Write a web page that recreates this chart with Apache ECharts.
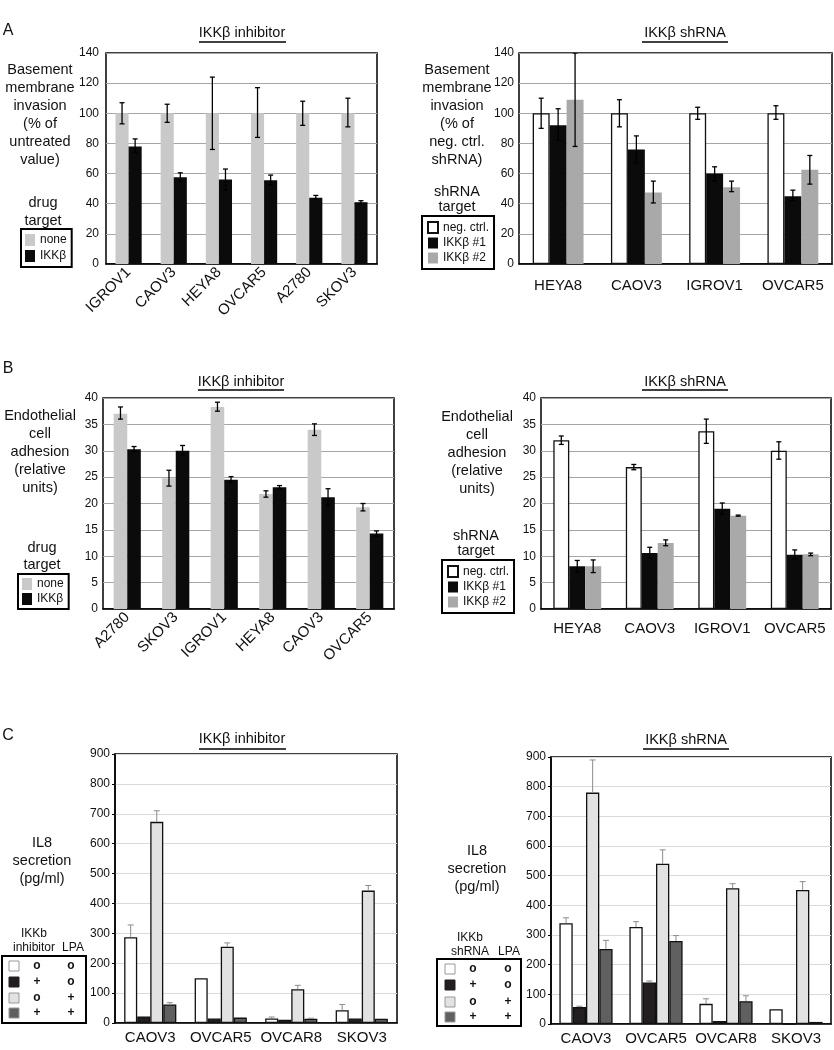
<!DOCTYPE html>
<html><head><meta charset="utf-8">
<script src="https://cdn.jsdelivr.net/npm/echarts@6/dist/echarts.min.js"></script>
<style>html,body{margin:0;padding:0;background:#fff}#c{width:834px;height:1050px}</style>
</head><body><div id="c"></div>
<script>
// ---------- Panel A: basement membrane invasion ----------
const aInhCats = ['IGROV1','CAOV3','HEYA8','OVCAR5','A2780','SKOV3'];
const aInhNone = [100,100,100,100,100,100];
const aInhNoneErr = [[93,107],[94,106],[76,124],[84,117],[92,108],[91,110]];
const aInhIKK = [78,57.5,56,55.5,44,41];
const aInhIKKErr = [[74,83],[55,60.5],[49,63],[52.5,59],[43,45.5],[40,42]];
const aShCats = ['HEYA8','CAOV3','IGROV1','OVCAR5'];
const aShNeg = [100,100,100,100];
const aShNegErr = [[90,110],[91,109],[96,104],[96,105]];
const aSh1 = [92,76,60,45];
const aSh1Err = [[82,103],[67,85],[55,64.5],[42,49]];
const aSh2 = [109,47.5,51,62.5];
const aSh2Err = [[78,140],[40.5,55],[48,55],[53,72]];
// ---------- Panel B: endothelial cell adhesion ----------
const bInhCats = ['A2780','SKOV3','IGROV1','HEYA8','CAOV3','OVCAR5'];
const bInhNone = [37,24.8,38.3,21.8,34,19.3];
const bInhNoneErr = [[36,38.3],[23.3,26.3],[37.5,39.2],[21.2,22.4],[32.9,35.1],[18.6,20]];
const bInhIKK = [30.3,30,24.5,23.1,21.2,14.3];
const bInhIKKErr = [[29.9,30.8],[29.2,31],[24,25.1],[22.8,23.4],[19.6,22.8],[13.8,14.8]];
const bShCats = ['HEYA8','CAOV3','IGROV1','OVCAR5'];
const bShNeg = [32,26.9,33.7,30];
const bShNegErr = [[31.2,32.8],[26.4,27.4],[31.4,36],[28.4,31.7]];
const bSh1 = [8.1,10.6,19,10.3];
const bSh1Err = [[7,9.2],[9.6,11.7],[18,20.1],[9.5,11.2]];
const bSh2 = [8.1,12.5,17.7,10.4];
const bSh2Err = [[6.9,9.3],[12,13.1],[17.6,17.8],[10.1,10.6]];
// ---------- Panel C: IL8 secretion ----------
const cCats = ['CAOV3','OVCAR5','OVCAR8','SKOV3'];
const cInhCtrl = [287,150,15,43];
const cInhCtrlTop = [328,null,20,62];
const cInhIKK = [22,15,11,15];
const cInhIKKTop = [null,null,null,null];
const cInhLPA = [673,255,113,443];
const cInhLPATop = [710,268,126,460];
const cInhBoth = [62,18,14,14];
const cInhBothTop = [68,null,16,null];
const cShCtrl = [340,327,68,50];
const cShCtrlTop = [358,345,85,null];
const cShIKK = [57,140,10,0];
const cShIKKTop = [60,145,null,null];
const cShLPA = [780,540,458,452];
const cShLPATop = [890,587,473,480];
const cShBoth = [253,280,77,7];
const cShBothTop = [282,298,95,null];
// tick label settings
const aTicks = {max:140, interval:20};
const bTicks = {max:40, interval:5};
const cTicks = {max:900, interval:100};

const FONT = '"Liberation Sans", Arial, sans-serif';
const LIGHT = '#c9c9c9', BLACK = '#0b0b0b', MID = '#a9a9a9';

const panels = [
  {grid:{left:106,top:53,width:271,height:211}, cats:aInhCats, ticks:aTicks, gap:0.42, rotate:45, lblMargin:7, xMargin:6, split:'#a6a6a6', err:'both',
   series:[{name:'none',v:aInhNone,e:aInhNoneErr,color:LIGHT},{name:'IKKβ',v:aInhIKK,e:aInhIKKErr,color:BLACK}]},
  {grid:{left:519,top:53,width:313,height:211}, cats:aShCats, ticks:aTicks, gap:0.35, rotate:0, lblMargin:5, xMargin:14, split:'#a6a6a6', err:'both',
   series:[{name:'neg. ctrl.',v:aShNeg,e:aShNegErr,color:'#fff',border:true},{name:'IKKβ #1',v:aSh1,e:aSh1Err,color:BLACK},{name:'IKKβ #2',v:aSh2,e:aSh2Err,color:MID}]},
  {grid:{left:103,top:398,width:291,height:211}, cats:bInhCats, ticks:bTicks, gap:0.44, rotate:45, lblMargin:5, xMargin:6, split:'#a6a6a6', err:'both',
   series:[{name:'none',v:bInhNone,e:bInhNoneErr,color:LIGHT},{name:'IKKβ',v:bInhIKK,e:bInhIKKErr,color:BLACK}]},
  {grid:{left:541,top:398,width:290,height:211}, cats:bShCats, ticks:bTicks, gap:0.34, rotate:0, lblMargin:5, xMargin:12, split:'#a6a6a6', err:'both',
   series:[{name:'neg. ctrl.',v:bShNeg,e:bShNegErr,color:'#fff',border:true},{name:'IKKβ #1',v:bSh1,e:bSh1Err,color:BLACK},{name:'IKKβ #2',v:bSh2,e:bSh2Err,color:MID}]},
  {grid:{left:115,top:754,width:282,height:269}, cats:cCats, ticks:cTicks, gap:0.26, rotate:0, lblMargin:5, xMargin:7, split:'#dadada', err:'up', c:true,
   series:[{name:'ctrl',v:cInhCtrl,e:cInhCtrlTop,color:'#ffffff'},{name:'IKKb',v:cInhIKK,e:cInhIKKTop,color:'#231f20'},{name:'LPA',v:cInhLPA,e:cInhLPATop,color:'#e2e2e2'},{name:'IKKb+LPA',v:cInhBoth,e:cInhBothTop,color:'#606060'}]},
  {grid:{left:551,top:757,width:280,height:267}, cats:cCats, ticks:cTicks, gap:0.24, rotate:0, lblMargin:5, xMargin:7, split:'#dadada', err:'up', c:true,
   series:[{name:'ctrl',v:cShCtrl,e:cShCtrlTop,color:'#ffffff'},{name:'IKKb',v:cShIKK,e:cShIKKTop,color:'#231f20'},{name:'LPA',v:cShLPA,e:cShLPATop,color:'#e2e2e2'},{name:'IKKb+LPA',v:cShBoth,e:cShBothTop,color:'#606060'}]}
];

const grids=[], xAxes=[], yAxes=[], series=[];
panels.forEach((p,gi)=>{
  grids.push(Object.assign({show:true, borderColor:'#000', borderWidth:1.5, backgroundColor:'transparent', containLabel:false}, p.grid));
  xAxes.push({type:'category', gridIndex:gi, data:p.cats,
    axisLine:{show:true, lineStyle:{color:'#000', width:1.5}}, axisTick:{show:false},
    axisLabel:{interval:0, rotate:p.rotate, fontSize:15, color:'#111', fontFamily:FONT, margin:p.xMargin}});
  yAxes.push({type:'value', gridIndex:gi, min:0, max:p.ticks.max, interval:p.ticks.interval,
    axisLine:{show:p.c, lineStyle:{color:'#000', width:1.5}}, axisTick:{show:p.c, length:3, lineStyle:{color:'#000'}},
    splitLine:{show:true, lineStyle:{color:p.split, width:1}},
    axisLabel:{fontSize:12, color:'#111', fontFamily:FONT, margin:p.lblMargin}});
  const n = p.series.length;
  p.series.forEach((s,si)=>{
    const bordered = p.c || s.border;
    series.push({type:'bar', name:s.name, xAxisIndex:gi, yAxisIndex:gi, data:s.v,
      barGap:'0%', barCategoryGap:(p.gap*100)+'%', animation:false, silent:true,
      itemStyle:{color:s.color, borderColor:bordered?'#111':s.color, borderWidth:bordered?1.3:0}});
    let data;
    if (p.err==='both') data = s.e.map((e,i)=>e?[i,e[0],e[1]]:null).filter(Boolean);
    else data = s.e.map((t,i)=>t!=null?[i,s.v[i],t]:null).filter(Boolean);
    const up = p.err==='up';
    series.push({type:'custom', xAxisIndex:gi, yAxisIndex:gi, z:5, silent:true, animation:false, clip:true,
      data:data,
      renderItem:function(params, api){
        const c = api.value(0);
        const lo = api.coord([c, api.value(1)]);
        const hi = api.coord([c, api.value(2)]);
        const band = api.size([1,0])[0];
        const barW = band*(1-p.gap)/n;
        const x = lo[0] - band*(1-p.gap)/2 + barW*(si+0.5);
        const cap = up ? 3 : 2.5;
        const st = {stroke: up ? '#8c8c8c' : '#000', lineWidth: up ? 1 : 1.3};
        const ch = [
          {type:'line', shape:{x1:x,y1:lo[1],x2:x,y2:hi[1]}, style:st},
          {type:'line', shape:{x1:x-cap,y1:hi[1],x2:x+cap,y2:hi[1]}, style:st}
        ];
        if (!up) ch.push({type:'line', shape:{x1:x-cap,y1:lo[1],x2:x+cap,y2:lo[1]}, style:st});
        return {type:'group', children:ch};
      }});
  });
});

function legendAt(left, top, names, pad, ih, gap){
  return {data:names, left:left, top:top, orient:'vertical', icon:'rect', itemWidth:10, itemHeight:ih, itemGap:gap,
    padding:pad, borderColor:'#000', borderWidth:2, selectedMode:false,
    textStyle:{fontSize:12, color:'#111', fontFamily:FONT}};
}
const legends = [
  legendAt(21,229,['none','IKKβ'],[5,5,5,4],12,4),
  legendAt(422,216,['neg. ctrl.','IKKβ #1','IKKβ #2'],[5,5,5,5],11,3),
  legendAt(18,574,['none','IKKβ'],[4,5,4,4],12,3),
  legendAt(442,560,['neg. ctrl.','IKKβ #1','IKKβ #2'],[5,5,5,5],11,3)
];

const G = [];
function txt(x,y,s,size,opt){
  G.push(Object.assign({type:'text', x:x, y:y, silent:true,
    style:Object.assign({text:s, fill:'#111', fontSize:size, fontFamily:FONT, align:'center', verticalAlign:'middle'}, opt||{})}));
}
function title(cx,cy,s,x1,x2,uy){
  txt(cx,cy,s,14.5);
  G.push({type:'line', silent:true, shape:{x1:x1,y1:uy,x2:x2,y2:uy}, style:{stroke:'#000', lineWidth:1.5}});
}
function block(cx,firstY,lines,lh){
  lh = lh || 18;
  txt(cx, firstY-lh/2, lines.join('\n'), 14.5, {verticalAlign:'top', lineHeight:lh});
}
// panel letters
txt(8,31,'A',16); txt(8,369,'B',16); txt(8,736,'C',16);
// titles
title(242,33,'IKKβ inhibitor',199,286,42);
title(685,33,'IKKβ shRNA',642,728,42);
title(241,382,'IKKβ inhibitor',198,284,390);
title(685,382,'IKKβ shRNA',642,728,390);
title(242,739,'IKKβ inhibitor',199,286,749);
title(686,740,'IKKβ shRNA',643,729,749);
// y titles
block(40,70,['Basement','membrane','invasion','(% of','untreated','value)']);
block(43,203,['drug','target']);
block(457,70,['Basement','membrane','invasion','(% of','neg. ctrl.','shRNA)']);
block(457,192,['shRNA','target'],15);
block(40,416,['Endothelial','cell','adhesion','(relative','units)']);
block(42,548,['drug','target'],17);
block(477,417,['Endothelial','cell','adhesion','(relative','units)']);
block(476,536,['shRNA','target'],15);
block(42,843,['IL8','secretion','(pg/ml)']);
block(477,851,['IL8','secretion','(pg/ml)']);

// C legends (tables)
const cLegColors = ['#ffffff','#231f20','#e2e2e2','#606060'];
const cLegCol1 = ['o','+','o','+'];
const cLegCol2 = ['o','o','+','+'];
function cLegend(bx,by,bw,bh,h1,h2,hx,lpaX,hy1,hy2,sqX,c1x,c2x,rowsY){
  G.push({type:'rect', silent:true, shape:{x:bx,y:by,width:bw,height:bh}, style:{fill:'none', stroke:'#000', lineWidth:2}});
  txt(hx,hy1,h1,12); txt(hx,hy2,h2,12); txt(lpaX,hy2,'LPA',12);
  rowsY.forEach((y,i)=>{
    G.push({type:'rect', silent:true, shape:{x:sqX,y:y-5,width:10,height:10},
      style:{fill:cLegColors[i], stroke: i===1 ? '#231f20' : '#999', lineWidth:1}});
    txt(c1x,y,cLegCol1[i],12,{fontWeight:'bold'});
    txt(c2x,y,cLegCol2[i],12,{fontWeight:'bold'});
  });
}
cLegend(2,956,84,67,'IKKb','inhibitor',34,73,934,948,9,37,71,[966,982,998,1013]);
cLegend(437,959,84,67,'IKKb','shRNA',470,509,938,952,445,473,508,[969,985,1002,1017]);

const chart = echarts.init(document.getElementById('c'), null, {renderer:'canvas'});
chart.setOption({
  animation:false, backgroundColor:'#fff',
  textStyle:{fontFamily:FONT},
  grid:grids, xAxis:xAxes, yAxis:yAxes, series:series, legend:legends, graphic:G
});
</script></body></html>
